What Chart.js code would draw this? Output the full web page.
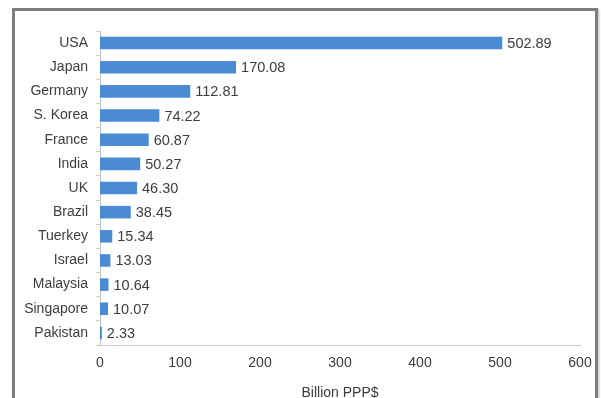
<!DOCTYPE html>
<html>
<head>
<meta charset="utf-8">
<script src="https://cdn.jsdelivr.net/npm/chart.js@4"></script>
<style>
  html, body { margin: 0; padding: 0; background: #fff; overflow: hidden; }
  #wrap { position: relative; width: 601px; height: 398px; }
  #frame {
    position: absolute; left: 12px; top: 8px; width: 580px; height: 400px;
    border: 3px solid #7d7d7d; box-shadow: 1px 1px 2px #bbb;
  }
  #box { position: absolute; left: 0; top: 0; width: 601px; height: 398px; }
</style>
</head>
<body>
<div id="wrap">
  <div id="frame"></div>
  <div id="box"><canvas id="chart"></canvas></div>
</div>
<script>
const countries = [
  "USA", "Japan", "Germany", "S. Korea", "France", "India", "UK",
  "Brazil", "Tuerkey", "Israel", "Malaysia", "Singapore", "Pakistan",
];
const spending = [
  502.89, 170.08, 112.81, 74.22, 60.87, 50.27, 46.3,
  38.45, 15.34, 13.03, 10.64, 10.07, 2.33,
];
const axisTitle = "Billion PPP$";

const FONT = "'Liberation Sans', Arial, sans-serif";
const TEXT = "#3d3d3d";

// value printed just past the end of each bar
const barValues = {
  id: "barValues",
  afterDatasetsDraw: (chart) => {
    const { ctx } = chart;
    const meta = chart.getDatasetMeta(0);
    ctx.save();
    ctx.font = "14.5px " + FONT;
    ctx.fillStyle = TEXT;
    ctx.textAlign = "left";
    ctx.textBaseline = "middle";
    meta.data.forEach((bar, i) => {
      ctx.fillText(spending[i].toFixed(2), bar.x + 5, bar.y + 1);
    });
    ctx.restore();
  },
};

new Chart(document.querySelector("#chart"), {
  type: "bar",
  data: {
    labels: countries,
    datasets: [
      {
        data: spending,
        backgroundColor: "#4a8bd3",
        barPercentage: 0.52,
        categoryPercentage: 1,
      },
    ],
  },
  options: {
    indexAxis: "y",
    responsive: true,
    maintainAspectRatio: false,
    animation: false,
    layout: { padding: { top: 31, right: 21, left: 0, bottom: 0 } },
    plugins: {
      legend: { display: false },
      tooltip: { enabled: false },
    },
    scales: {
      x: {
        min: 0,
        max: 600,
        ticks: {
          stepSize: 100,
          color: TEXT,
          font: { family: FONT, size: 14 },
          padding: 2,
        },
        grid: { display: false },
        border: { color: "#c8c8c8" },
        title: {
          display: true,
          text: axisTitle,
          color: TEXT,
          font: { family: FONT, size: 14 },
          padding: { top: 0, bottom: -4 },
        },
        afterFit: (scale) => {
          scale.height = 53;
        },
      },
      y: {
        ticks: {
          color: TEXT,
          font: { family: FONT, size: 14 },
          padding: 8,
        },
        grid: {
          drawOnChartArea: false,
          tickLength: 4,
          color: "#e8c9a8",
        },
        border: { color: "#b8c4d0" },
        afterFit: (scale) => {
          scale.width = 100;
        },
      },
    },
  },
  plugins: [barValues],
});
</script>
</body>
</html>
